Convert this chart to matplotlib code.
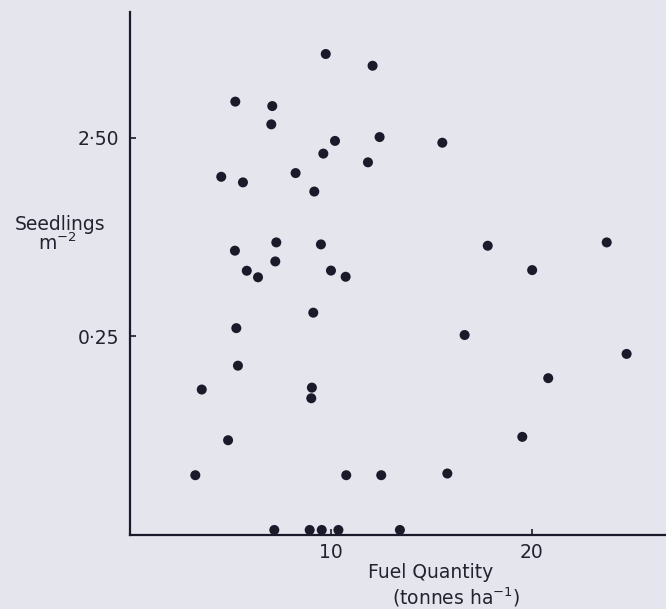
import numpy as np
import matplotlib
matplotlib.use("Agg")
import matplotlib.pyplot as plt

# Fuel quantity (tonnes/ha) and seedlings per m^2 (0 = no seedlings)
fuel = [9.74, 12.07, 5.24, 7.08, 7.03, 10.20, 12.42, 15.54, 9.62, 11.84,
        4.54, 5.62, 8.24, 9.17, 5.22, 7.28, 9.50, 5.81, 6.37, 7.23,
        10.00, 10.73, 17.80, 20.01, 23.72, 5.29, 9.12, 5.37, 3.57, 9.05,
        9.02, 4.88, 3.25, 16.65, 20.81, 24.71, 19.52, 10.76, 12.50, 15.79,
        7.18, 8.94, 9.54, 10.37, 13.43]
seedlings = [6.60, 5.76, 3.80, 3.61, 2.92, 2.41, 2.52, 2.36, 2.08, 1.88,
             1.59, 1.49, 1.66, 1.34, 0.675, 0.743, 0.726, 0.535, 0.496, 0.596,
             0.536, 0.499, 0.715, 0.539, 0.743, 0.275, 0.329, 0.178, 0.135, 0.138,
             0.122, 0.075, 0.050, 0.254, 0.154, 0.204, 0.078, 0.050, 0.050, 0.051,
             0, 0, 0, 0, 0]
y_ticks = [0.25, 2.50]
y_tick_labels = ["0·25", "2·50"]
x_ticks = [10, 20]
x_tick_labels = ["10", "20"]

ZERO_PLOT = 0.0265  # where zero counts are drawn on the log axis

BG = "#e5e5ed"
INK = "#1a1a2a"
TXT = "#222230"

fig = plt.figure(figsize=(6.66, 6.09), dpi=100, facecolor=BG)
ax = fig.add_axes([130/666, (609-535)/609, (666-130)/666, (535-12)/609])
ax.set_facecolor(BG)

y = np.array(seedlings, dtype=float)
y_plot = np.where(y > 0, y, ZERO_PLOT)
ax.scatter(fuel, y_plot, s=52, color=INK, edgecolors="none", zorder=3, clip_on=False)

ax.set_yscale("log")
ax.set_xlim(0, 26.67)
ax.set_ylim(0.025, 10.74)
ax.set_yticks(y_ticks)
ax.set_yticklabels(y_tick_labels)
ax.set_xticks(x_ticks)
ax.set_xticklabels(x_tick_labels)
ax.yaxis.set_minor_locator(matplotlib.ticker.NullLocator())

for s in ["top", "right"]:
    ax.spines[s].set_visible(False)
for s in ["left", "bottom"]:
    ax.spines[s].set_linewidth(1.6)
    ax.spines[s].set_color(INK)

ax.tick_params(axis="both", direction="in", length=4, width=1.2, color=INK,
               labelsize=13.5, labelcolor=TXT)
ax.tick_params(axis="y", pad=8)
ax.tick_params(axis="x", pad=6)

fs = 13.5
fig.text(60/666, 1 - 224/609, "Seedlings", ha="center", va="center",
         fontsize=fs, color=TXT)
fig.text(57/666, 1 - 243/609, "m$^{-2}$", ha="center", va="center",
         fontsize=fs, color=TXT)
fig.text(431/666, 1 - 573/609, "Fuel Quantity", ha="center", va="center",
         fontsize=fs, color=TXT)
fig.text(456/666, 1 - 597/609, "(tonnes ha$^{-1}$)", ha="center", va="center",
         fontsize=fs, color=TXT)

fig.savefig("out.png", dpi=100, facecolor=BG)
